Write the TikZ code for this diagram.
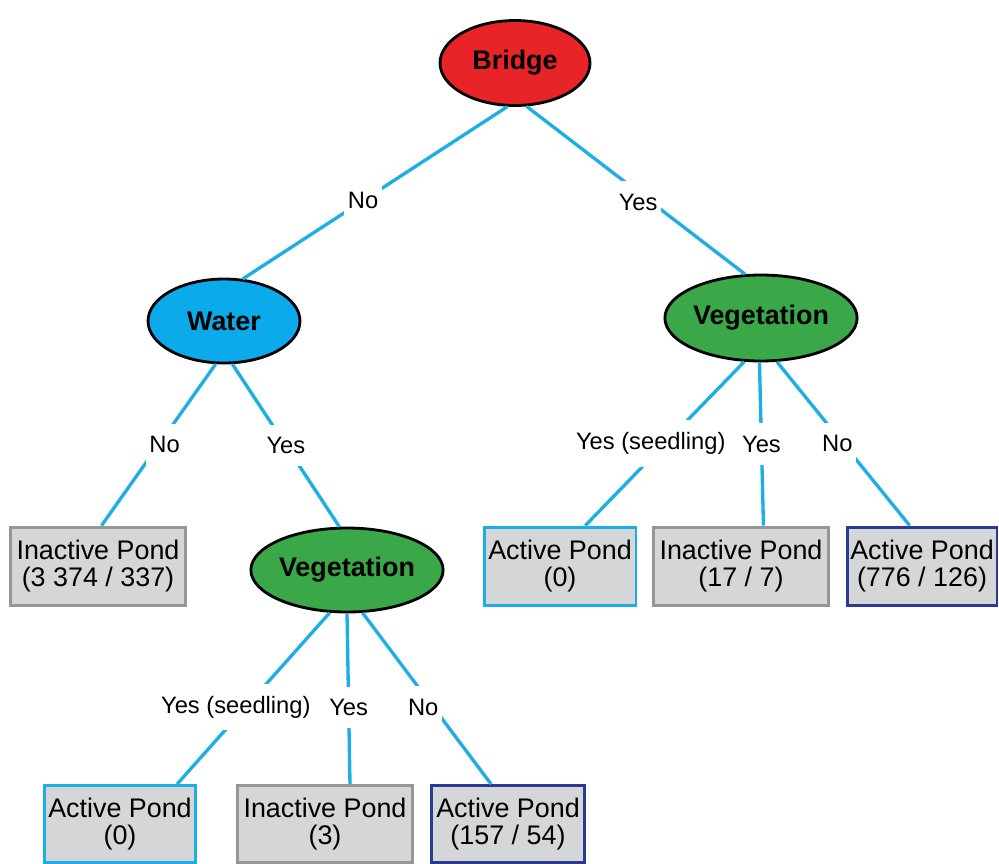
\documentclass[tikz,border=0pt]{standalone}
\usepackage{fontspec}
\setmainfont{Liberation Sans}
\usepackage{xcolor}
\usetikzlibrary{shapes.geometric}

\definecolor{bridgered}{RGB}{232,36,40}
\definecolor{watercyan}{RGB}{10,170,235}
\definecolor{veggreen}{RGB}{58,168,72}
\definecolor{edgeblue}{RGB}{30,174,230}
\definecolor{boxgray}{RGB}{213,214,216}
\definecolor{rimgray}{RGB}{150,150,150}
\definecolor{rimnavy}{RGB}{43,57,144}

\begin{document}
\begin{tikzpicture}[x=0.02cm, y=-0.02cm,
  test/.style={ellipse, draw=black, line width=1.6pt, inner sep=0pt,
    font=\fontsize{15.3}{18}\selectfont\bfseries},
  leaf/.style={rectangle, fill=boxgray, line width=1.7pt, inner sep=1pt,
    minimum height=1.56cm, align=center,
    font=\fontsize{15.3}{15.6}\selectfont},
  inactive/.style={leaf, draw=rimgray, minimum width=3.5cm},
  activezero/.style={leaf, draw=edgeblue, minimum width=3.04cm},
  activebig/.style={leaf, draw=rimnavy, minimum width=3.0cm},
  branch/.style={draw=edgeblue, line width=1.9pt},
  answer/.style={fill=white, inner xsep=2pt, inner ysep=7pt,
    font=\fontsize{13.5}{15}\selectfont}]

\useasboundingbox (0,0) rectangle (999,863);

\node[test, fill=bridgered, minimum width=3.0cm, minimum height=1.7cm] (bridge) at (515,63) {Bridge};
\node[test, fill=watercyan, minimum width=3.04cm, minimum height=1.68cm] (water) at (224,321) {Water};
\node[test, fill=veggreen, minimum width=3.74cm, minimum height=1.72cm] (vegR) at (761,318) {Vegetation};
\node[test, fill=veggreen, minimum width=3.7cm, minimum height=1.68cm] (vegL) at (347,570) {Vegetation};

\node[inactive] (pondA) at (98,566) {Inactive Pond\\(3 374 / 337)};
\node[activezero] (pondB) at (560,566) {Active Pond\\(0)};
\node[inactive] (pondC) at (741,566) {Inactive Pond\\(17 / 7)};
\node[activebig] (pondD) at (922,566) {Active Pond\\(776 / 126)};

\node[activezero, minimum height=1.54cm] (pondE) at (120,824) {Active Pond\\(0)};
\node[inactive, minimum height=1.54cm] (pondF) at (325,824) {Inactive Pond\\(3)};
\node[activebig, minimum width=3.06cm, minimum height=1.54cm] (pondG) at (508,824) {Active Pond\\(157 / 54)};

\draw[branch] (bridge.260) -- node[answer, pos=0.545] {No} (water.66);
\draw[branch] (bridge.285) -- node[answer, pos=0.57, xshift=-0.26cm] {Yes} (vegR.110);

\draw[branch] (water.259) -- node[answer, xshift=0.12cm] {No} (pondA.85);
\draw[branch] (water.281) -- node[answer] {Yes} (vegL.100);

\draw[branch] (vegR.249) -- node[answer, pos=0.5, xshift=-0.28cm] {Yes (seedling)} (pondB.58);
\draw[branch] (vegR.268) -- node[answer] {Yes} (pondC.61);
\draw[branch] (vegR.290) -- node[answer, xshift=-0.12cm] {No} (pondD.107);

\draw[branch] (vegL.248) -- node[answer, pos=0.55, xshift=-0.2cm] {Yes (seedling)} (pondE.35);
\draw[branch] (vegL.270) -- node[answer, pos=0.55] {Yes} (pondF.58);
\draw[branch] (vegL.290) -- node[answer, pos=0.55, xshift=-0.2cm] {No} (pondG.113);

\end{tikzpicture}
\end{document}
